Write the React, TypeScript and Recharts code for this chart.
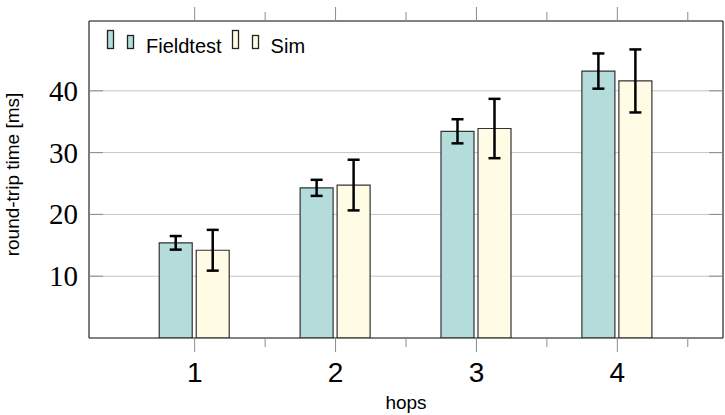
import React from 'react';
import { BarChart, Bar, XAxis, YAxis, CartesianGrid, ErrorBar, Legend } from 'recharts';

const HOPS = [1, 2, 3, 4];
const FIELDTEST = [15.4, 24.3, 33.45, 43.2];
const FIELDTEST_ERR = [1.1, 1.3, 1.95, 2.85];
const SIM = [14.2, 24.75, 33.9, 41.6];
const SIM_ERR = [3.3, 4.1, 4.8, 5.1];

const X_TICKS = [1, 1.5, 2, 2.5, 3, 3.5, 4, 4.5];
const Y_TICKS = [10, 20, 30, 40];
const X_DOMAIN = [0.25, 4.75];
const Y_DOMAIN = [0, 51.3];

const SERIES = [
  { key: 'fieldtest', name: 'Fieldtest', fill: '#b3dcdb' },
  { key: 'sim', name: 'Sim', fill: '#fffbe5' },
];

const SANS = "'Liberation Sans', Arial, Helvetica, sans-serif";
const SERIF = "'Liberation Serif', 'Times New Roman', serif";
const TICK = '#8c8c8c';
const EDGE = '#333';
const frame = { stroke: '#222', strokeWidth: 1.2 };

const rows = HOPS.map((h, i) => ({
  hop: h,
  fieldtest: FIELDTEST[i],
  fieldtestErr: FIELDTEST_ERR[i],
  sim: SIM[i],
  simErr: SIM_ERR[i],
}));

const isMajor = (v: number) => Number.isInteger(v);

const BottomTick = ({ x, y, payload }: any) => (
  <g>
    <line x1={x} x2={x} y1={y} y2={y + (isMajor(payload.value) ? 14 : 9)} stroke={TICK} />
    {isMajor(payload.value) && (
      <text x={x} y={y + 44} textAnchor="middle" fontFamily={SANS} fontSize={28} fill="#000">
        {payload.value}
      </text>
    )}
  </g>
);

const TopTick = ({ x, y, payload }: any) => (
  <line x1={x} x2={x} y1={y} y2={y - (isMajor(payload.value) ? 14 : 9)} stroke={TICK} />
);

const LeftTick = ({ x, y, payload }: any) => (
  <g>
    <line x1={x} x2={x + 14} y1={y} y2={y} stroke={TICK} />
    <text x={x - 11} y={y} dy={10} textAnchor="end" fontFamily={SERIF} fontSize={29} fill="#000">
      {payload.value}
    </text>
  </g>
);

const RightTick = ({ x, y }: any) => <line x1={x - 14} x2={x} y1={y} y2={y} stroke={TICK} />;

const renderLegend = () => (
  <div style={{ display: 'flex', alignItems: 'flex-start', fontFamily: SANS, fontSize: 20, color: '#000' }}>
    {SERIES.map((s) => (
      <div key={s.key} style={{ display: 'flex', alignItems: 'flex-start', marginRight: 8 }}>
        <svg width={41} height={27}>
          <rect x={2.5} y={4.5} width={6} height={18} fill={s.fill} stroke="#222" strokeWidth={1.3} />
          <rect x={22.5} y={9.5} width={6} height={13} fill={s.fill} stroke="#222" strokeWidth={1.3} />
        </svg>
        <span style={{ lineHeight: '27px', paddingTop: 7 }}>{s.name}</span>
      </div>
    ))}
  </div>
);

export default function App() {
  return (
    <div style={{ position: 'absolute', left: 0, top: 0 }}>
      <BarChart width={725} height={415} data={rows} margin={{ top: 0, right: 0, bottom: 0, left: 0 }} barGap={4}>
        <CartesianGrid vertical={false} stroke="#c4c4c4" />
        <XAxis
          dataKey="hop"
          type="number"
          domain={X_DOMAIN}
          allowDataOverflow
          ticks={X_TICKS}
          interval={0}
          height={77}
          tickSize={0}
          tickMargin={0}
          tickLine={false}
          axisLine={frame}
          tick={BottomTick}
          label={{
            content: ({ viewBox }: any) => (
              <text
                x={viewBox.x + viewBox.width / 2}
                y={viewBox.y + viewBox.height - 6}
                textAnchor="middle"
                fontFamily={SANS}
                fontSize={19}
                fill="#000"
              >
                hops
              </text>
            ),
          }}
        />
        <XAxis
          xAxisId="top"
          orientation="top"
          dataKey="hop"
          type="number"
          domain={X_DOMAIN}
          allowDataOverflow
          ticks={X_TICKS}
          interval={0}
          height={21}
          tickSize={0}
          tickMargin={0}
          tickLine={false}
          axisLine={frame}
          tick={TopTick}
        />
        <YAxis
          type="number"
          domain={Y_DOMAIN}
          allowDataOverflow
          ticks={Y_TICKS}
          interval={0}
          width={89}
          tickSize={0}
          tickMargin={0}
          tickLine={false}
          axisLine={frame}
          tick={LeftTick}
          label={{
            content: ({ viewBox }: any) => {
              const lx = viewBox.x + 19;
              const ly = viewBox.y + viewBox.height / 2 - 5;
              return (
                <text
                  x={lx}
                  y={ly}
                  transform={`rotate(-90, ${lx}, ${ly})`}
                  textAnchor="middle"
                  fontFamily={SANS}
                  fontSize={19}
                  fill="#000"
                >
                  round-trip time [ms]
                </text>
              );
            },
          }}
        />
        <YAxis
          yAxisId="right"
          orientation="right"
          type="number"
          domain={Y_DOMAIN}
          allowDataOverflow
          ticks={Y_TICKS}
          interval={0}
          width={2}
          tickSize={0}
          tickMargin={0}
          tickLine={false}
          axisLine={frame}
          tick={RightTick}
        />
        <Legend
          layout="horizontal"
          verticalAlign="middle"
          align="center"
          content={renderLegend}
          wrapperStyle={{ left: 105, top: 26, width: 'auto', height: 'auto' }}
        />
        {SERIES.map((s) => (
          <Bar
            key={s.key}
            dataKey={s.key}
            name={s.name}
            fill={s.fill}
            stroke={EDGE}
            strokeWidth={1.2}
            barSize={33}
            isAnimationActive={false}
          >
            <ErrorBar
              dataKey={`${s.key}Err`}
              direction="y"
              width={6}
              stroke="#000"
              strokeWidth={2.5}
              isAnimationActive={false}
            />
          </Bar>
        ))}
      </BarChart>
    </div>
  );
}
